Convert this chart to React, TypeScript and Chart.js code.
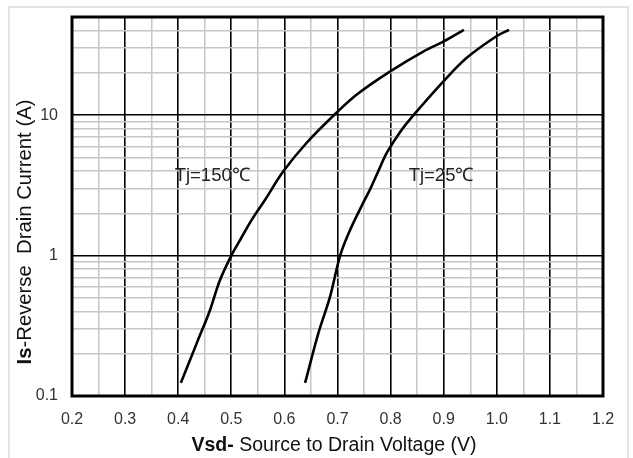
import React, { useEffect, useRef } from "react";
import { Chart, registerables } from "chart.js";

Chart.register(...registerables);

// ---- data ----
const tj150V = [0.405, 0.435, 0.46, 0.478, 0.5, 0.517, 0.539, 0.564, 0.598, 0.642, 0.698, 0.737, 0.8, 0.863, 0.9, 0.938];
const tj150I = [0.124, 0.238, 0.41, 0.66, 1.0, 1.3, 1.81, 2.51, 3.98, 6.36, 10.4, 14.1, 20.6, 28.6, 33.5, 40.5];

const tj25V = [0.639, 0.664, 0.686, 0.705, 0.724, 0.749, 0.762, 0.777, 0.793, 0.818, 0.846, 0.9, 0.944, 1.0, 1.023];
const tj25I = [0.124, 0.28, 0.51, 1.0, 1.53, 2.4, 3.0, 4.0, 5.4, 7.6, 10.3, 17.5, 25.7, 36.6, 40.5];

const xGridValues = [0.2, 0.25, 0.3, 0.35, 0.4, 0.45, 0.5, 0.55, 0.6, 0.65, 0.7, 0.75, 0.8, 0.85, 0.9, 0.95, 1.0, 1.05, 1.1, 1.15, 1.2];
const xTickLabels = [0.2, 0.3, 0.4, 0.5, 0.6, 0.7, 0.8, 0.9, 1.0, 1.1, 1.2];

const yGridValues = [0.1, 0.2, 0.3, 0.4, 0.5, 0.6, 0.7, 0.8, 0.9, 1, 2, 3, 4, 5, 6, 7, 8, 9, 10, 20, 30, 40, 50];
const yTickLabels = [0.1, 1, 10];

const curveLabels = ["Tj=150℃", "Tj=25℃"];
const curveLabelX = [0.464, 0.895];
const curveLabelY = [3.7, 3.7];

const FONT = "'Liberation Sans', Arial, sans-serif";

const near = (a: number, b: number) => Math.abs(a - b) < 1e-6;

function drawMixed(ctx: CanvasRenderingContext2D, parts: { t: string; b: boolean }[], cx: number, cy: number, size: number) {
  let total = 0;
  const widths = parts.map((p) => {
    ctx.font = `${p.b ? "bold " : ""}${size}px ${FONT}`;
    const w = ctx.measureText(p.t).width;
    total += w;
    return w;
  });
  let x = cx - total / 2;
  ctx.textBaseline = "middle";
  ctx.textAlign = "left";
  parts.forEach((p, i) => {
    ctx.font = `${p.b ? "bold " : ""}${size}px ${FONT}`;
    ctx.fillText(p.t, x, cy);
    x += widths[i];
  });
}

const decorPlugin = {
  id: "decor",
  beforeDraw(chart: any) {
    const ctx = chart.ctx as CanvasRenderingContext2D;
    ctx.save();
    ctx.fillStyle = "#ffffff";
    ctx.fillRect(0, 0, chart.width, chart.height);
    ctx.strokeStyle = "#dcdcdc";
    ctx.lineWidth = 1.5;
    ctx.strokeRect(9, 7, 619, 520);
    ctx.restore();
  },
  afterDraw(chart: any) {
    const ctx = chart.ctx as CanvasRenderingContext2D;
    const a = chart.chartArea;
    const xs = chart.scales.x;
    const ys = chart.scales.y;
    ctx.save();
    ctx.strokeStyle = "#000";
    ctx.lineWidth = 3;
    ctx.strokeRect(a.left, a.top, a.right - a.left, a.bottom - a.top);

    ctx.fillStyle = "#222";
    ctx.font = `18.5px ${FONT}`;
    ctx.textAlign = "center";
    ctx.textBaseline = "middle";
    curveLabels.forEach((t, i) => {
      ctx.fillText(t, xs.getPixelForValue(curveLabelX[i]), ys.getPixelForValue(curveLabelY[i]));
    });

    ctx.fillStyle = "#111";
    drawMixed(ctx, [{ t: "Vsd-", b: true }, { t: " Source to Drain Voltage (V)", b: false }], 334, 446, 19.5);

    ctx.translate(25, 232);
    ctx.rotate(-Math.PI / 2);
    drawMixed(ctx, [{ t: "Is", b: true }, { t: "-Reverse  Drain Current (A)", b: false }], 0, 0, 20.3);
    ctx.restore();
  },
};

export default function App() {
  const ref = useRef<HTMLCanvasElement | null>(null);

  useEffect(() => {
    if (!ref.current) return;
    const chart = new Chart(ref.current, {
      type: "line",
      data: {
        datasets: [
          {
            label: curveLabels[0],
            data: tj150V.map((v, i) => ({ x: v, y: tj150I[i] })),
            borderColor: "#000",
            borderWidth: 2.6,
            pointRadius: 0,
            tension: 0.35,
            fill: false,
          },
          {
            label: curveLabels[1],
            data: tj25V.map((v, i) => ({ x: v, y: tj25I[i] })),
            borderColor: "#000",
            borderWidth: 2.6,
            pointRadius: 0,
            tension: 0.35,
            fill: false,
          },
        ],
      },
      options: {
        responsive: false,
        animation: false,
        events: [],
        layout: { padding: { left: 0, top: 17, right: 30, bottom: 0 }, autoPadding: false },
        plugins: { legend: { display: false }, tooltip: { enabled: false }, title: { display: false } },
        scales: {
          x: {
            type: "linear",
            min: 0.2,
            max: 1.2,
            afterBuildTicks: (s: any) => {
              s.ticks = xGridValues.map((v) => ({ value: v }));
            },
            afterFit: (s: any) => {
              s.height = 62;
              s.paddingLeft = 0;
              s.paddingRight = 0;
            },
            border: { display: false },
            grid: {
              drawTicks: false,
              lineWidth: (c: any) => (xTickLabels.some((t) => near(t, c.tick?.value)) ? 1.6 : 1.5),
              color: (c: any) => (xTickLabels.some((t) => near(t, c.tick?.value)) ? "#000" : "#c6c6c6"),
            },
            ticks: {
              autoSkip: false,
              maxRotation: 0,
              padding: 14,
              color: "#333",
              font: { family: FONT, size: 16 },
              callback: (v: any) => {
                const n = Number(v);
                return xTickLabels.some((t) => near(t, n)) ? n.toFixed(1) : "";
              },
            },
          },
          y: {
            type: "logarithmic",
            min: 0.1,
            max: 50,
            afterBuildTicks: (s: any) => {
              s.ticks = yGridValues.map((v) => ({ value: v }));
            },
            afterFit: (s: any) => {
              s.width = 72;
              s.paddingTop = 0;
              s.paddingBottom = 0;
            },
            border: { display: false },
            grid: {
              drawTicks: false,
              lineWidth: (c: any) => (yTickLabels.some((t) => near(t, c.tick?.value)) ? 1.6 : 1.5),
              color: (c: any) => (yTickLabels.some((t) => near(t, c.tick?.value)) ? "#000" : "#c6c6c6"),
            },
            ticks: {
              autoSkip: false,
              padding: 14,
              color: "#333",
              font: { family: FONT, size: 16 },
              callback: (v: any) => {
                const n = Number(v);
                return yTickLabels.some((t) => near(t, n)) ? String(n) : "";
              },
            },
          },
        },
      },
      plugins: [decorPlugin],
    } as any);
    return () => chart.destroy();
  }, []);

  return (
    <div style={{ position: "fixed", left: 0, top: 0, width: 633, height: 458, background: "#fff" }}>
      <canvas ref={ref} width={633} height={458} style={{ display: "block", width: 633, height: 458 }} />
    </div>
  );
}
